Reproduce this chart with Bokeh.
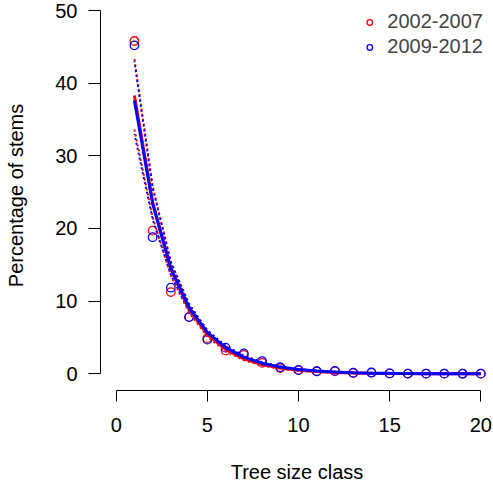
from bokeh.plotting import figure
from bokeh.models import Range1d, FixedTicker, Legend, LegendItem, ColumnDataSource
from bokeh.embed import file_html
from bokeh.resources import INLINE

# ---- data ----
size_class = list(range(1, 21))
pct_2002_2007 = [45.8, 19.7, 11.25, 7.8, 4.9, 3.2, 2.6, 1.5, 0.8, 0.55, 0.35, 0.35, 0.1, 0.15, 0.05, 0.02, 0.02, 0.02, 0.01, 0.02]
pct_2009_2012 = [45.2, 18.8, 11.85, 7.8, 4.7, 3.6, 2.8, 1.75, 0.9, 0.5, 0.35, 0.4, 0.15, 0.18, 0.05, 0.02, 0.02, 0.02, 0.01, 0.02]

fit_2002_2007 = [38.3, 23.6, 14.4, 8.9, 5.4, 3.35, 2.05, 1.27, 0.78, 0.48, 0.3, 0.18, 0.11, 0.07, 0.04, 0.03, 0.02, 0.01, 0.006, 0.004]
upper_2002_2007 = [43.3, 25.8, 15.3, 9.4, 5.75, 3.6, 2.25, 1.42, 0.9, 0.57, 0.36, 0.23, 0.15, 0.09, 0.06, 0.04, 0.025, 0.015, 0.01, 0.006]
lower_2002_2007 = [33.6, 21.5, 13.5, 8.4, 5.1, 3.1, 1.87, 1.13, 0.68, 0.41, 0.25, 0.15, 0.09, 0.055, 0.033, 0.02, 0.012, 0.007, 0.004, 0.003]

fit_2009_2012 = [37.6, 23.4, 14.5, 9.1, 5.7, 3.6, 2.3, 1.45, 0.92, 0.58, 0.37, 0.23, 0.15, 0.09, 0.06, 0.04, 0.02, 0.015, 0.01, 0.006]
upper_2009_2012 = [43.0, 25.6, 15.4, 9.6, 6.0, 3.85, 2.5, 1.6, 1.03, 0.67, 0.43, 0.28, 0.18, 0.12, 0.08, 0.05, 0.03, 0.02, 0.015, 0.01]
lower_2009_2012 = [33.0, 21.3, 13.6, 8.6, 5.4, 3.35, 2.1, 1.3, 0.82, 0.5, 0.31, 0.19, 0.12, 0.07, 0.045, 0.03, 0.015, 0.01, 0.006, 0.004]

x_ticks = [0, 5, 10, 15, 20]
y_ticks = [0, 10, 20, 30, 40, 50]
series_labels = ["2002-2007", "2009-2012"]

FONT = "Liberation Sans"
FS = "20px"

p = figure(width=493, height=487, output_backend="svg", toolbar_location=None,
           x_range=Range1d(-0.861, 20.697), y_range=Range1d(-2.30, 51.376),
           min_border_left=100, min_border_right=0, min_border_top=0, min_border_bottom=97)
p.outline_line_color = None
p.grid.visible = False
p.background_fill_color = "white"
p.border_fill_color = "white"

src = ColumnDataSource(dict(x=size_class,
                            r=pct_2002_2007, b=pct_2009_2012,
                            rf=fit_2002_2007, ru=upper_2002_2007, rl=lower_2002_2007,
                            bf=fit_2009_2012, bu=upper_2009_2012, bl=lower_2009_2012))

red = "#FF0000"
blue = "#0000FF"

r_pts = p.scatter("x", "r", source=src, marker="circle", size=8.5, fill_color=None, line_color=red, line_width=1.3)
b_pts = p.scatter("x", "b", source=src, marker="circle", size=8.5, fill_color=None, line_color=blue, line_width=1.3)

for col in ("ru", "rl"):
    p.line("x", col, source=src, line_color=red, line_width=2, line_dash="2 3")
for col in ("bu", "bl"):
    p.line("x", col, source=src, line_color=blue, line_width=2, line_dash="2 3", line_dash_offset=1)
p.line("x", "rf", source=src, line_color=red, line_width=3)
p.line("x", "bf", source=src, line_color=blue, line_width=3)

for ax, ticks, bounds in ((p.xaxis[0], x_ticks, (0, 20)), (p.yaxis[0], y_ticks, (0, 50))):
    ax.ticker = FixedTicker(ticks=ticks)
    ax.bounds = bounds
    ax.axis_line_color = "black"
    ax.axis_line_width = 1
    ax.major_tick_line_color = "black"
    ax.major_tick_in = 0
    ax.minor_tick_line_color = None
    ax.major_label_text_font = FONT
    ax.major_label_text_font_size = FS
    ax.major_label_text_color = "black"
    ax.axis_label_text_font = FONT
    ax.axis_label_text_font_size = FS
    ax.axis_label_text_font_style = "normal"
    ax.axis_label_text_color = "black"

p.xaxis.major_tick_out = 11
p.yaxis.major_tick_out = 12
p.xaxis.axis_label = "Tree size class"
p.yaxis.axis_label = "Percentage of stems"
p.xaxis.major_label_standoff = 16
p.yaxis.major_label_standoff = 11
p.xaxis.axis_label_standoff = 26
p.yaxis.axis_label_standoff = 25

legend = Legend(items=[LegendItem(label=series_labels[0], renderers=[r_pts]),
                       LegendItem(label=series_labels[1], renderers=[b_pts])],
                location="top_right", margin=10, padding=0, spacing=2,
                glyph_width=16, glyph_height=14, label_height=22, label_standoff=10,
                border_line_color=None, background_fill_alpha=0,
                label_text_font=FONT, label_text_font_size=FS)
p.add_layout(legend)

open("out.html", "w").write(file_html(p, INLINE))
